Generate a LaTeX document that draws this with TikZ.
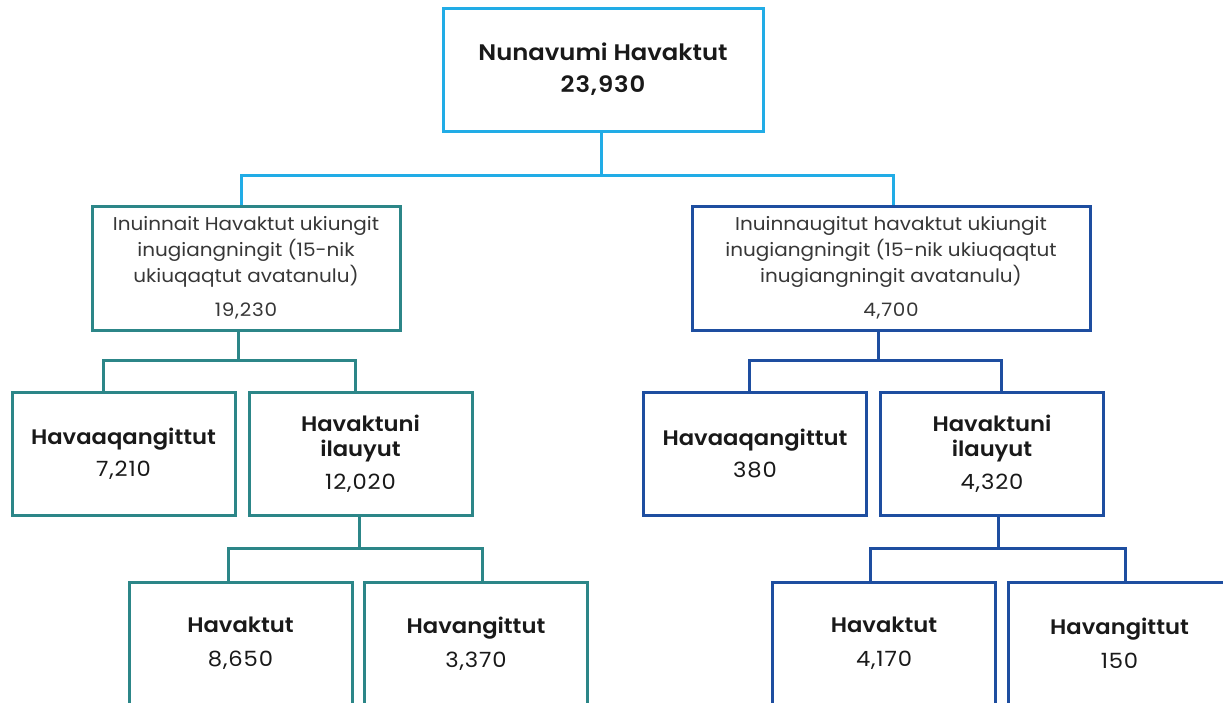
\documentclass[tikz,border=0pt]{standalone}
\usepackage{fontspec}
\setmainfont{Poppins}[FakeStretch=1.08, BoldFont={Poppins SemiBold}, BoldFeatures={FakeStretch=1.08}]
\definecolor{skyc}{RGB}{33,172,230}
\definecolor{tealc}{RGB}{44,134,136}
\definecolor{navyc}{RGB}{30,78,160}
\definecolor{txtc}{RGB}{25,25,25}
\definecolor{txtg}{RGB}{55,55,55}
\newcommand{\numb}[1]{{\addfontfeature{LetterSpace=4}#1}}
\begin{document}
\begin{tikzpicture}[x=1pt,y=-1pt,
  box/.style={draw, line width=3pt, fill=white, inner sep=0pt, align=center, text=txtc},
  topbox/.style={box, draw=skyc, minimum width=320pt, minimum height=123pt, font=\fontsize{22.5}{32}\selectfont\bfseries},
  midbox/.style={box, minimum height=124pt, text=txtg, font=\fontsize{18.5}{26}\selectfont},
  lvbox/.style={box, minimum width=223pt, minimum height=123pt, font=\fontsize{21}{25}\selectfont},
  tline/.style={line width=3pt},
]
\useasboundingbox (0,0) rectangle (1223,702);
\clip (0,0) rectangle (1223,702);

% top
\node[topbox] (top) at (603,69.5) {Nunavumi Havaktut\\\numb{23,930}};

% middle
\node[midbox, draw=tealc, minimum width=308pt] (lmid) at (246,268)
  {Inuinnait Havaktut ukiungit\\inugiangningit (15-nik\\ukiuqaqtut avatanulu)\\[8pt]\numb{19,230}};
\node[midbox, draw=navyc, minimum width=398pt] (rmid) at (891,268)
  {Inuinnaugitut havaktut ukiungit\\inugiangningit (15-nik ukiuqaqtut\\inugiangningit avatanulu)\\[8pt]\numb{4,700}};

% level 3 left
\node[lvbox, draw=tealc] (la) at (123.5,453.5) {\textbf{Havaaqangittut}\\[7pt]\numb{7,210}};
\node[lvbox, draw=tealc] (lb) at (360.5,453.5) {\textbf{Havaktuni}\\\textbf{ilauyut}\\[8pt]\numb{12,020}};
% level 3 right
\node[lvbox, draw=navyc] (ra) at (755,453.5) {\textbf{Havaaqangittut}\\[7pt]\numb{380}};
\node[lvbox, draw=navyc] (rb) at (992,453.5) {\textbf{Havaktuni}\\\textbf{ilauyut}\\[8pt]\numb{4,320}};

% level 4 left
\node[lvbox, draw=tealc] (lc) at (240.5,643.5) {\textbf{Havaktut}\\[9pt]\numb{8,650}};
\node[lvbox, draw=tealc] (ld) at (476,643.5) {\textbf{Havangittut}\\[9pt]\numb{3,370}};
% level 4 right
\node[lvbox, draw=navyc] (rc) at (884,643.5) {\textbf{Havaktut}\\[9pt]\numb{4,170}};
\node[lvbox, draw=navyc] (rd) at (1119.5,643.5) {\textbf{Havangittut}\\[9pt]\numb{150}};

% connectors: top
\coordinate (b1) at ([xshift=-2pt]top.south |- 0,175);
\draw[tline, skyc] ([xshift=-2pt]top.south) -- (b1);
\draw[tline, skyc] ([xshift=-5pt]lmid.north) |- (b1) -| ([xshift=2pt]rmid.north);

% left tree
\coordinate (b2) at ([xshift=-8pt]lmid.south |- 0,360);
\draw[tline, tealc] ([xshift=-8pt]lmid.south) -- (b2);
\draw[tline, tealc] ([xshift=-20pt]la.north) |- (b2) -| ([xshift=-5pt]lb.north);
\coordinate (b3) at ([xshift=-1pt]lb.south |- 0,548);
\draw[tline, tealc] ([xshift=-1pt]lb.south) -- (b3);
\draw[tline, tealc] ([xshift=-12pt]lc.north) |- (b3) -| ([xshift=6pt]ld.north);

% right tree
\coordinate (b4) at ([xshift=-13pt]rmid.south |- 0,360);
\draw[tline, navyc] ([xshift=-13pt]rmid.south) -- (b4);
\draw[tline, navyc] ([xshift=-6pt]ra.north) |- (b4) -| ([xshift=9pt]rb.north);
\coordinate (b5) at ([xshift=6pt]rb.south |- 0,548);
\draw[tline, navyc] ([xshift=6pt]rb.south) -- (b5);
\draw[tline, navyc] ([xshift=-14pt]rc.north) |- (b5) -| ([xshift=5.5pt]rd.north);
\end{tikzpicture}
\end{document}
